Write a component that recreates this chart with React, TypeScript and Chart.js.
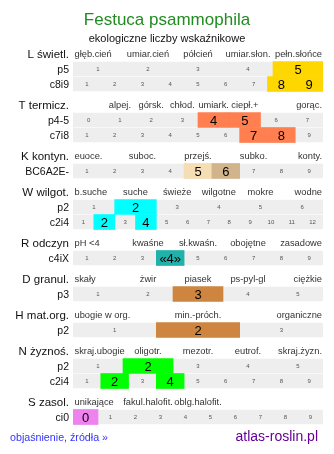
import React, { useEffect, useRef } from "react";
import { Chart, registerables } from "chart.js";

Chart.register(...registerables);

const titleText = "Festuca psammophila";
const subtitleText = "ekologiczne liczby wskaźnikowe";
const footerLinkText = "objaśnienie, źródła »";
const footerSiteText = "atlas-roslin.pl";

const sectionNames = ["L świetl.", "T termicz.", "K kontyn.", "W wilgot.", "R odczyn", "D granul.", "H mat.org.", "N żyznoś.", "S zasol."];
const sectionScaleLabels = [
  ["głęb.cień", "umiar.cień", "półcień", "umiar.słon.", "pełn.słońce"],
  ["alpej.", "górsk.", "chłod.", "umiark.", "ciepł.+", "gorąc."],
  ["euoce.", "suboc.", "przejś.", "subko.", "konty."],
  ["b.suche", "suche", "świeże", "wilgotne", "mokre", "wodne"],
  ["pH <4", "kwaśne", "sł.kwaśn.", "obojętne", "zasadowe"],
  ["skały", "żwir", "piasek", "ps-pyl-gl", "ciężkie"],
  ["ubogie w org.", "min.-próch.", "organiczne"],
  ["skraj.ubogie", "oligotr.", "mezotr.", "eutrof.", "skraj.żyzn."],
  ["unikające", "fakul.halofit.", "oblg.halofit."],
];
const sectionScaleSize = [5, 8, 9, 6, 5, 5, 3, 5, 5];
const sectionScaleSlots = [
  [0, 1, 2, 3, 4],
  [1, 2, 3, 4, 5, 7],
  [0, 2, 4, 6, 8],
  [0, 1, 2, 3, 4, 5],
  [0, 1, 2, 3, 4],
  [0, 1, 2, 3, 4],
  [0, 1, 2],
  [0, 1, 2, 3, 4],
  [0, 1, 2],
];

const rowSection = [0, 0, 1, 1, 2, 3, 3, 4, 5, 6, 7, 7, 8];
const rowLabels = ["p5", "c8i9", "p4-5", "c7i8", "BC6A2E-", "p2", "c2i4", "c4iX", "p3", "p2", "p2", "c2i4", "ci0"];
const rowFirstValue = [1, 1, 0, 1, 1, 1, 1, 1, 1, 1, 1, 1, 0];
const rowLastValue = [5, 9, 7, 9, 9, 6, 12, 9, 5, 3, 5, 9, 9];
const rowValues = [[5], [8, 9], [4, 5], [7, 8], [5, 6], [2], [2, 4], [4], [3], [2], [2], [2, 4], [0]];
const rowValueColors = [
  ["#FFD700"],
  ["#FFD700", "#FFD700"],
  ["#FF7F50", "#FF7F50"],
  ["#FF7F50", "#FF7F50"],
  ["#F5DEB3", "#D2B48C"],
  ["#00FFFF"],
  ["#00FFFF", "#00FFFF"],
  ["#20B2AA"],
  ["#CD853F"],
  ["#CD853F"],
  ["#00FF00"],
  ["#00FF00", "#00FF00"],
  ["#EE82EE"],
];
const rowUncertain = [false, false, false, false, false, false, false, true, false, false, false, false, false];

const FONT = '"Liberation Sans", Arial, sans-serif';

function computeLayout() {
  const headerPos: number[] = [];
  const rowPos: number[] = [];
  let u = 0;
  sectionNames.forEach((_, s) => {
    headerPos.push(u);
    rowSection.forEach((sec, r) => {
      if (sec === s) {
        u += 1;
        rowPos[r] = u;
      }
    });
    u += 1.4;
  });
  return { headerPos, rowPos };
}

export default function App() {
  const canvasRef = useRef<HTMLCanvasElement | null>(null);

  useEffect(() => {
    const canvas = canvasRef.current;
    if (!canvas) return;
    const { headerPos, rowPos } = computeLayout();

    const bgData = rowLabels.map((_, r) => ({ x: [0, 1], y: rowPos[r] }));
    const hlData: any[] = [];
    const hlColors: string[] = [];
    rowValues.forEach((vals, r) => {
      const n = rowLastValue[r] - rowFirstValue[r] + 1;
      vals.forEach((v, k) => {
        const i = v - rowFirstValue[r];
        hlData.push({ x: [i / n, (i + 1) / n], y: rowPos[r] });
        hlColors.push(rowValueColors[r][k]);
      });
    });

    const textPlugin = {
      id: "tableText",
      afterDatasetsDraw(chart: any) {
        const ctx = chart.ctx as CanvasRenderingContext2D;
        const xs = chart.scales.x;
        const ys = chart.scales.y;
        const left = xs.getPixelForValue(0);
        const right = xs.getPixelForValue(1);
        const W = chart.width;
        ctx.save();
        ctx.textBaseline = "alphabetic";

        ctx.textAlign = "center";
        ctx.fillStyle = "#228B22";
        ctx.font = `17px ${FONT}`;
        ctx.fillText(titleText, W / 2, 25);
        ctx.fillStyle = "#111";
        ctx.font = `11px ${FONT}`;
        ctx.fillText(subtitleText, W / 2, 41.5);

        sectionNames.forEach((name, s) => {
          const y = ys.getPixelForValue(headerPos[s]);
          ctx.textAlign = "right";
          ctx.fillStyle = "#111";
          ctx.font = `11.5px ${FONT}`;
          ctx.fillText(name, left - 4, y + 4.2);
          ctx.font = `9.3px ${FONT}`;
          ctx.fillStyle = "#333";
          const n = sectionScaleSize[s];
          sectionScaleLabels[s].forEach((lab, k) => {
            const slot = sectionScaleSlots[s][k];
            let px: number;
            if (slot === 0) {
              ctx.textAlign = "left";
              px = left + 1.5;
            } else if (slot === n - 1) {
              ctx.textAlign = "right";
              px = right - 1;
            } else {
              ctx.textAlign = "center";
              px = xs.getPixelForValue((slot + 0.5) / n);
            }
            ctx.fillText(lab, px, y + 3.3);
          });
        });

        rowLabels.forEach((lab, r) => {
          const y = ys.getPixelForValue(rowPos[r]);
          ctx.textAlign = "right";
          ctx.fillStyle = "#111";
          ctx.font = `10.5px ${FONT}`;
          ctx.fillText(lab, left - 4, y + 4);
          const first = rowFirstValue[r];
          const n = rowLastValue[r] - first + 1;
          for (let v = first; v <= rowLastValue[r]; v++) {
            const cx = xs.getPixelForValue((v - first + 0.5) / n);
            ctx.textAlign = "center";
            if (rowValues[r].includes(v)) {
              ctx.fillStyle = "#000";
              ctx.font = `13px ${FONT}`;
              ctx.fillText(rowUncertain[r] ? `«${v}»` : String(v), cx, y + 4.6);
            } else {
              ctx.fillStyle = "#555";
              ctx.font = `6px ${FONT}`;
              ctx.fillText(String(v), cx, y + 2.2);
            }
          }
        });

        ctx.textAlign = "left";
        ctx.fillStyle = "#3333FF";
        ctx.font = `10.7px ${FONT}`;
        ctx.fillText(footerLinkText, 10, 441);
        ctx.textAlign = "right";
        ctx.fillStyle = "#660099";
        ctx.font = `14px ${FONT}`;
        ctx.fillText(footerSiteText, right - 5, 441);
        ctx.restore();
      },
    };

    const chart = new Chart(canvas, {
      type: "bar",
      data: {
        datasets: [
          {
            label: "wartość",
            data: hlData,
            backgroundColor: hlColors,
            barThickness: 15,
            grouped: false,
            order: 0,
          } as any,
          {
            label: "skala",
            data: bgData,
            backgroundColor: "#EEEEEE",
            barThickness: 14,
            grouped: false,
            order: 1,
          } as any,
        ],
      },
      options: {
        indexAxis: "y",
        animation: false,
        responsive: false,
        devicePixelRatio: 1,
        layout: { padding: { left: 73, right: 11, top: 39, bottom: 10 } },
        plugins: { legend: { display: false }, tooltip: { enabled: false }, title: { display: false } },
        scales: {
          x: { type: "linear", min: 0, max: 1, display: false, offset: false },
          y: { type: "linear", min: -1, max: 26, reverse: true, display: false, offset: false },
        },
      },
      plugins: [textPlugin],
    });
    return () => chart.destroy();
  }, []);

  return (
    <div style={{ position: "absolute", left: 0, top: 0, width: 334, height: 454, background: "#fff" }}>
      <canvas ref={canvasRef} width={334} height={454} style={{ display: "block" }} />
    </div>
  );
}
